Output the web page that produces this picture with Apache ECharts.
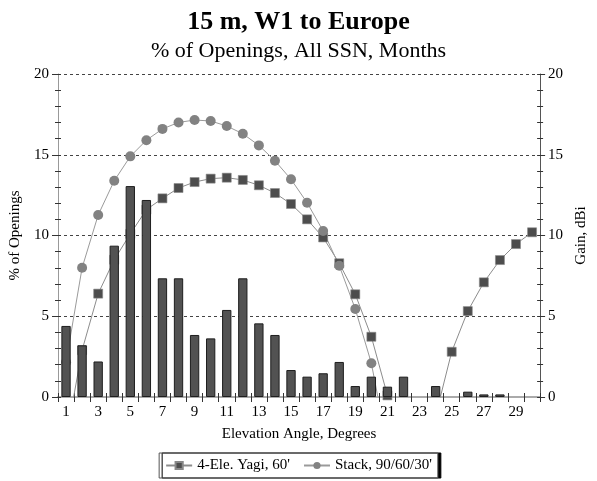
<!DOCTYPE html>
<html><head><meta charset="utf-8">
<script src="https://cdn.jsdelivr.net/npm/echarts@6/dist/echarts.min.js"></script>
<style>html,body{margin:0;padding:0;background:#fff}#c{width:597px;height:481px}</style>
</head><body><div id="c"></div>
<script>
const categories = ['1','2','3','4','5','6','7','8','9','10','11','12','13','14','15','16','17','18','19','20','21','22','23','24','25','26','27','28','29','30'];
const openings = [4.4,3.2,2.2,9.37,13.06,12.2,7.35,7.35,3.84,3.63,5.39,7.35,4.56,3.84,1.67,1.26,1.47,2.17,0.68,1.26,0.64,1.26,null,0.68,null,0.33,0.16,0.16,null,null];
const yagiGain = [-2.6,2.9,6.4,8.5,10.1,11.6,12.3,12.94,13.31,13.52,13.58,13.44,13.11,12.63,11.95,11.0,9.88,8.28,6.36,3.73,0.1,null,null,-1.16,2.8,5.32,7.1,8.48,9.47,10.2];
const stackGain = [2.15,8.0,11.27,13.39,14.9,15.9,16.6,17.0,17.15,17.09,16.78,16.3,15.58,14.63,13.48,12.03,10.28,8.13,5.45,2.09,-3.1,null,null,null,null,null,null,null,null,null];
const seriesNames = ["4-Ele. Yagi, 60'", "Stack, 90/60/30'"];

const FONT = "'Liberation Serif','Times New Roman',serif";
const chart = echarts.init(document.getElementById('c'), null, {renderer:'canvas'});
const grid = {left:54, right:47, top:74, bottom:84};
chart.setOption({
  backgroundColor:'#fff',
  animation:false,
  textStyle:{fontFamily:FONT},
  title:[
    {text:'15 m, W1 to Europe', left:'center', top:4, textStyle:{fontFamily:FONT,fontSize:26,fontWeight:'bold',color:'#000'}},
    {text:'% of Openings, All SSN, Months', left:'center', top:35, textStyle:{fontFamily:FONT,fontSize:22,fontWeight:'normal',color:'#000'}}
  ],
  legend:{
    data:[{name:seriesNames[0]},{name:seriesNames[1]}],
    left:'center', bottom:3, itemWidth:26, itemHeight:9, itemGap:13,
    padding:[5,6,5,6],
    backgroundColor:'#fff', borderColor:'#555', borderWidth:1,
    shadowColor:'#000', shadowOffsetX:3, shadowOffsetY:0, shadowBlur:0,
    textStyle:{fontFamily:FONT,fontSize:15,color:'#000'}
  },
  grid:grid,
  xAxis:[
    {type:'category', data:categories, position:'bottom', boundaryGap:true,
     name:'Elevation Angle, Degrees', nameLocation:'middle', nameGap:30,
     nameTextStyle:{fontFamily:FONT,fontSize:15,color:'#000'},
     axisLine:{lineStyle:{color:'#999',width:1}},
     axisTick:{show:true, interval:0, length:5, lineStyle:{color:'#333'}},
     axisLabel:{interval:1, margin:8, fontFamily:FONT, fontSize:15, color:'#000'}},
    {type:'category', data:categories, position:'bottom', boundaryGap:true,
     axisLine:{show:false}, axisLabel:{show:false},
     axisTick:{show:true, inside:true, interval:0, length:4, lineStyle:{color:'#333'}}},
    {type:'category', data:categories, position:'top', boundaryGap:true,
     axisLine:{show:true, lineStyle:{color:'#aaa',width:2}}, axisLabel:{show:false}, axisTick:{show:false}}
  ],
  yAxis:[
    {type:'value', min:0, max:20, interval:5, position:'left',
     name:'% of Openings', nameLocation:'middle', nameGap:35,
     nameTextStyle:{fontFamily:FONT,fontSize:15,color:'#000'},
     axisLine:{show:true, lineStyle:{color:'#999'}},
     axisTick:{show:true, length:6, lineStyle:{color:'#333'}},
     minorTick:{show:true, splitNumber:5, length:3, lineStyle:{color:'#333'}},
     axisLabel:{margin:9, fontFamily:FONT, fontSize:15, color:'#000'},
     splitLine:{show:true, lineStyle:{color:'#444', type:[3,3], width:1}}},
    {type:'value', min:0, max:20, interval:5, position:'right',
     name:'Gain, dBi', nameLocation:'middle', nameGap:31,
     nameTextStyle:{fontFamily:FONT,fontSize:15,color:'#000'},
     axisLine:{show:true, lineStyle:{color:'#555'}},
     axisTick:{show:true, length:5, lineStyle:{color:'#333'}},
     minorTick:{show:true, splitNumber:5, length:3, lineStyle:{color:'#333'}},
     axisLabel:{margin:8, fontFamily:FONT, fontSize:15, color:'#000'},
     splitLine:{show:false}},
    {type:'value', min:0, max:20, interval:1, position:'left',
     axisLine:{show:false}, axisLabel:{show:false}, splitLine:{show:false},
     axisTick:{show:true, inside:true, length:3, lineStyle:{color:'#333'}}},
    {type:'value', min:0, max:20, interval:1, position:'right',
     axisLine:{show:false}, axisLabel:{show:false}, splitLine:{show:false},
     axisTick:{show:true, inside:true, length:3, lineStyle:{color:'#333'}}}
  ],
  series:[
    {name:'% of Openings', type:'bar', data:openings, xAxisIndex:0, yAxisIndex:0,
     barWidth:'58%', z:5,
     itemStyle:{color:'#525252', borderColor:'#1e1e1e', borderWidth:1}},
    {name:seriesNames[0], type:'line', data:yagiGain, xAxisIndex:0, yAxisIndex:1,
     symbol:'rect', symbolSize:9, clip:true, connectNulls:false, z:3,
     lineStyle:{color:'#8c8c8c', width:1},
     itemStyle:{color:'#4d4d4d', borderColor:'#888', borderWidth:0.6}},
    {name:seriesNames[1], type:'line', data:stackGain, xAxisIndex:0, yAxisIndex:1,
     symbol:'circle', symbolSize:10, clip:true, connectNulls:false, z:3,
     lineStyle:{color:'#9a9a9a', width:1},
     itemStyle:{color:'#828282', borderWidth:0}}
  ]
});
</script></body></html>
